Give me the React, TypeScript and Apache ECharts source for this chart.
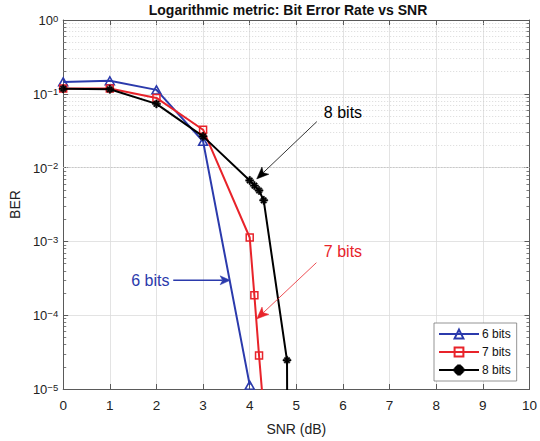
import React, { useEffect, useRef } from 'react';
import * as echarts from 'echarts';

// ---- data ----
const snrTicks = [0, 1, 2, 3, 4, 5, 6, 7, 8, 9, 10];
const berDecades = [1e-5, 1e-4, 1e-3, 1e-2, 1e-1, 1];

const seriesNames = ['6 bits', '7 bits', '8 bits'];

const snr6 = [0, 1, 2, 3, 4];
const ber6 = [0.145, 0.15, 0.113, 0.0227, 1.13e-5];

const snr7 = [0, 1, 2, 3, 4, 4.1, 4.2, 4.3];
const ber7 = [0.118, 0.118, 0.088, 0.0326, 0.00113, 0.000186, 0.0000285, 0.000005];

const snr8 = [0, 1, 2, 3, 4, 4.1, 4.2, 4.3, 4.8, 4.82];
const ber8 = [0.117, 0.115, 0.073, 0.0265, 0.0067, 0.0057, 0.0049, 0.0036, 0.0000245, 0.00000001];

// annotations (data coordinates)
const annotationLabels = ['6 bits', '7 bits', '8 bits'];
const annotationTextAt = [[1.87, 2.97e-4], [6.0, 7.3e-4], [6.0, 0.056]];
const arrowFrom = [[2.36, 2.97e-4], [5.43, 5.15e-4], [5.44, 0.042]];
const arrowTo = [[3.58, 2.97e-4], [4.15, 8.9e-5], [4.15, 0.00703]];

const FONT = 'Liberation Sans, Arial, Helvetica, sans-serif';
const BLUE = '#2b3aac';
const RED = '#e8232a';
const BLACK = '#000000';
const colors = [BLUE, RED, BLACK];
const AXIS = '#5a5a5a';

const Y_MIN = berDecades[0];
const Y_MAX = berDecades[berDecades.length - 1];
const X_MIN = snrTicks[0];
const X_MAX = snrTicks[snrTicks.length - 1];

const STAR =
  'path://M-5,-0.9L5,-0.9L5,0.9L-5,0.9Z M-0.9,-5L0.9,-5L0.9,5L-0.9,5Z ' +
  'M2.54,3.82L3.82,2.54L-2.54,-3.82L-3.82,-2.54Z M3.82,-2.54L2.54,-3.82L-3.82,2.54L-2.54,3.82Z';

function mkData(xs: number[], ys: number[]) {
  return xs.map((x, i) =>
    ys[i] < Y_MIN * 0.999 ? { value: [x, ys[i]], symbol: 'none' } : [x, ys[i]]
  );
}

export default function App() {
  const ref = useRef<HTMLDivElement>(null);

  useEffect(() => {
    if (!ref.current) return;
    const chart = echarts.init(ref.current, undefined, { renderer: 'svg' });

    // minor log grid values (2..9 x 10^k)
    const minorVals: number[] = [];
    for (let i = 0; i < berDecades.length - 1; i++) {
      for (let m = 2; m <= 9; m++) minorVals.push(berDecades[i] * m);
    }

    const minorGrid = minorVals.map((v) => ({ yAxis: v }));
    const minorTicks: any[] = [];
    minorVals.forEach((v) => {
      minorTicks.push([{ coord: [X_MIN, v] }, { coord: [X_MIN + 0.065, v] }]);
      minorTicks.push([{ coord: [X_MAX, v] }, { coord: [X_MAX - 0.065, v] }]);
    });

    const lineSeries = [
      { xs: snr6, ys: ber6, symbol: 'triangle', size: [9, 8], hollow: true },
      { xs: snr7, ys: ber7, symbol: 'rect', size: 7, hollow: true },
      { xs: snr8, ys: ber8, symbol: STAR, size: 8, hollow: false },
    ].map((s, i) => ({
      name: seriesNames[i],
      type: 'line',
      data: mkData(s.xs, s.ys),
      symbol: s.symbol,
      symbolSize: s.size,
      showAllSymbol: true,
      clip: true,
      z: 5 + i,
      lineStyle: { color: colors[i], width: 2 },
      itemStyle: s.hollow
        ? { color: 'rgba(255,255,255,0)', borderColor: colors[i], borderWidth: 1.5 }
        : { color: colors[i], borderColor: colors[i], borderWidth: 0.6 },
      emphasis: { disabled: true },
    }));

    const annotationSeries = annotationLabels.map((t, i) => ({
      name: 'annot' + i,
      type: 'line',
      data: [],
      silent: true,
      z: 10,
      markPoint: {
        silent: true,
        symbol: 'circle',
        symbolSize: 1,
        itemStyle: { color: 'rgba(0,0,0,0)' },
        label: {
          show: true,
          position: 'inside',
          formatter: t,
          color: colors[i],
          fontSize: 16,
          fontFamily: FONT,
        },
        data: [{ coord: annotationTextAt[i] }],
        animation: false,
      },
    }));

    const gridSeries = {
      name: 'grid-minor',
      type: 'line',
      data: [],
      silent: true,
      z: 1,
      markLine: {
        silent: true,
        symbol: ['none', 'none'],
        label: { show: false },
        lineStyle: { color: '#c9c9c9', width: 0.7, type: [1, 2] },
        emphasis: { disabled: true },
        data: minorGrid,
        animation: false,
      },
    };
    const tickSeries = {
      name: 'ticks-minor',
      type: 'line',
      data: [],
      silent: true,
      z: 3,
      markLine: {
        silent: true,
        symbol: ['none', 'none'],
        label: { show: false },
        lineStyle: { color: AXIS, width: 0.8, type: 'solid' },
        emphasis: { disabled: true },
        data: minorTicks,
        animation: false,
      },
    };

    const option: any = {
      animation: false,
      backgroundColor: '#ffffff',
      textStyle: { fontFamily: FONT },
      grid: { left: 62, right: 9, top: 20, bottom: 51.5, containLabel: false },
      legend: {
        data: seriesNames,
        orient: 'vertical',
        left: 434,
        top: 323,
        itemWidth: 40,
        itemHeight: 11,
        itemGap: 6,
        padding: [5, 6, 5, 4],
        backgroundColor: '#ffffff',
        borderColor: '#7a7a7a',
        borderWidth: 0.8,
        borderRadius: 0,
        textStyle: { fontSize: 12, color: '#111', fontFamily: FONT, padding: [0, 0, 0, -2] },
        selectedMode: false,
      },
      xAxis: [
        {
          type: 'value',
          min: X_MIN,
          max: X_MAX,
          interval: 1,
          position: 'bottom',
          name: 'SNR (dB)',
          nameLocation: 'middle',
          nameGap: 33,
          nameTextStyle: { fontSize: 14, color: '#222', fontFamily: FONT },
          axisLine: { show: true, onZero: false, lineStyle: { color: AXIS, width: 1 } },
          axisTick: { show: true, inside: true, length: 5, lineStyle: { color: AXIS } },
          axisLabel: { fontSize: 13.5, color: '#222', margin: 9, fontFamily: FONT },
          splitLine: { show: true, lineStyle: { color: '#dcdcdc', width: 0.8 } },
        },
        {
          type: 'value',
          min: X_MIN,
          max: X_MAX,
          interval: 1,
          position: 'top',
          axisLine: { show: true, onZero: false, lineStyle: { color: AXIS, width: 1 } },
          axisTick: { show: true, inside: true, length: 5, lineStyle: { color: AXIS } },
          axisLabel: { show: false },
          splitLine: { show: false },
        },
      ],
      yAxis: [
        {
          type: 'log',
          logBase: 10,
          min: Y_MIN,
          max: Y_MAX,
          position: 'left',
          name: 'BER',
          nameLocation: 'middle',
          nameGap: 38,
          nameRotate: 90,
          nameTextStyle: { fontSize: 14, color: '#222', fontFamily: FONT },
          axisLine: { show: true, onZero: false, lineStyle: { color: AXIS, width: 1 } },
          axisTick: { show: true, inside: true, length: 5, lineStyle: { color: AXIS } },
          axisLabel: {
            margin: 5,
            formatter: (v: number) => {
              const e = Math.round(Math.log10(v));
              const s = e < 0 ? '\u2212' + Math.abs(e) : String(e);
              return `{b|10}{e|${s}}`;
            },
            rich: {
              b: { fontSize: 13, color: '#222', fontFamily: FONT, lineHeight: 14, padding: [7, 0, 0, 0], verticalAlign: 'bottom' },
              e: { fontSize: 9.5, color: '#222', fontFamily: FONT, lineHeight: 11, verticalAlign: 'top' },
            },
          },
          splitLine: { show: true, lineStyle: { color: '#dcdcdc', width: 0.8 } },
        },
        {
          type: 'log',
          logBase: 10,
          min: Y_MIN,
          max: Y_MAX,
          position: 'right',
          axisLine: { show: true, onZero: false, lineStyle: { color: AXIS, width: 1 } },
          axisTick: { show: true, inside: true, length: 5, lineStyle: { color: AXIS } },
          axisLabel: { show: false },
          splitLine: { show: false },
        },
      ],
      series: [gridSeries, tickSeries, ...lineSeries, ...annotationSeries],
    };

    chart.setOption(option);

    // arrows: positioned through the chart's own coordinate conversion
    const arrows: any[] = [];
    arrowFrom.forEach((from, i) => {
      const p0 = chart.convertToPixel({ gridIndex: 0 }, from) as number[];
      const p1 = chart.convertToPixel({ gridIndex: 0 }, arrowTo[i]) as number[];
      const dx = p1[0] - p0[0];
      const dy = p1[1] - p0[1];
      const len = Math.hypot(dx, dy);
      const ux = dx / len, uy = dy / len;
      const px = -uy, py = ux;
      const headL = i === 0 ? 10 : 12;
      const headW = i === 0 ? 4.5 : 5;
      const back = headL * 0.75;
      const base = [p1[0] - ux * headL, p1[1] - uy * headL];
      const notch = [p1[0] - ux * back, p1[1] - uy * back];
      arrows.push({
        type: 'line',
        silent: true,
        z: 100,
        shape: { x1: p0[0], y1: p0[1], x2: notch[0], y2: notch[1] },
        style: { stroke: colors[i], lineWidth: i === 0 ? 1.5 : 0.8 },
      });
      arrows.push({
        type: 'polygon',
        silent: true,
        z: 100,
        shape: {
          points: [
            [p1[0], p1[1]],
            [base[0] + px * headW, base[1] + py * headW],
            [notch[0], notch[1]],
            [base[0] - px * headW, base[1] - py * headW],
          ],
        },
        style: { fill: colors[i], stroke: colors[i], lineWidth: 0.5 },
      });
    });

    chart.setOption({
      graphic: [
        {
          type: 'text',
          x: 288,
          y: 10,
          style: {
            text: 'Logarithmic metric: Bit Error Rate vs SNR',
            fill: '#111',
            font: 'bold 14px ' + FONT,
            align: 'center',
            verticalAlign: 'middle',
          },
        },
        ...arrows,
      ],
    });

    return () => chart.dispose();
  }, []);

  return (
    <div
      ref={ref}
      style={{ position: 'fixed', left: 0, top: 0, width: 540, height: 441, background: '#fff' }}
    />
  );
}
